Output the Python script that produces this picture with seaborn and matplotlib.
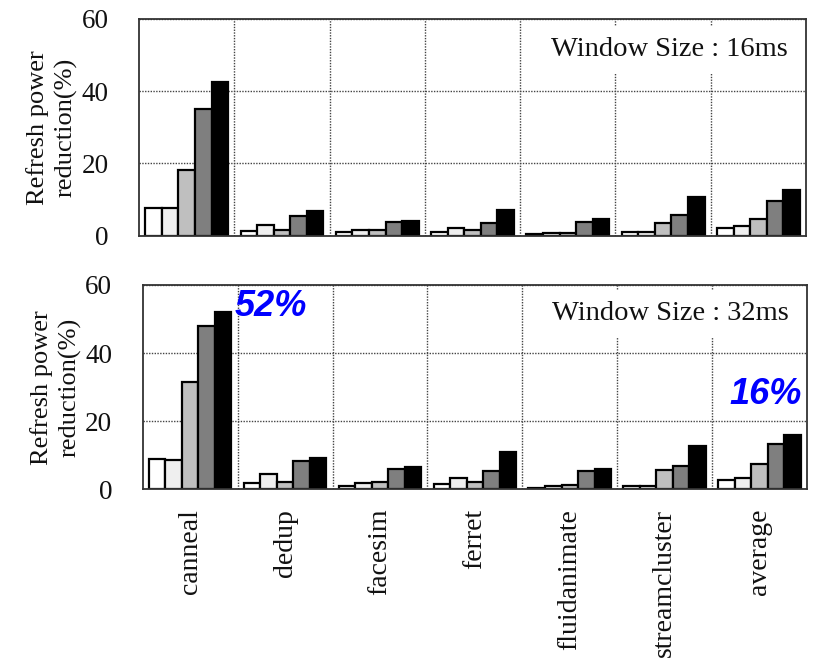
import matplotlib
matplotlib.use("Agg")
import matplotlib.pyplot as plt
import numpy as np
import pandas as pd
import seaborn as sns

# Benchmarks on the x axis
benchmarks = ["canneal", "dedup", "facesim", "ferret", "fluidanimate",
              "streamcluster", "average"]
schemes = ["s1", "s2", "s3", "s4", "s5"]
bar_colors = ["#ffffff", "#efefef", "#bfbfbf", "#7f7f7f", "#000000"]

# Refresh power reduction (%), window size 16 ms
w16_s1 = [7.8, 1.4, 0.9, 1.0, 0.5, 0.9, 2.0]
w16_s2 = [7.8, 3.0, 1.5, 2.1, 0.8, 0.9, 2.7]
w16_s3 = [18.2, 1.6, 1.6, 1.6, 0.8, 3.5, 4.6]
w16_s4 = [35.2, 5.5, 3.7, 3.5, 3.8, 5.8, 9.6]
w16_s5 = [42.5, 6.7, 4.2, 7.2, 4.6, 10.8, 12.7]

# Refresh power reduction (%), window size 32 ms
w32_s1 = [8.9, 1.8, 1.0, 1.6, 0.5, 1.0, 2.6]
w32_s2 = [8.5, 4.4, 1.8, 3.2, 0.9, 1.0, 3.2]
w32_s3 = [31.4, 2.1, 2.1, 2.0, 1.2, 5.6, 7.4]
w32_s4 = [48.0, 8.4, 6.0, 5.3, 5.5, 6.8, 13.3]
w32_s5 = [52.0, 9.2, 6.5, 11.0, 6.0, 12.8, 16.0]

yticks = [0, 20, 40, 60]


def long_form(series):
    rows = []
    for name, vals in zip(schemes, series):
        for b, v in zip(benchmarks, vals):
            rows.append({"benchmark": b, "scheme": name, "value": v})
    return pd.DataFrame(rows)


df16 = long_form([w16_s1, w16_s2, w16_s3, w16_s4, w16_s5])
df32 = long_form([w32_s1, w32_s2, w32_s3, w32_s4, w32_s5])

sns.set_style("white")
plt.rcParams["font.family"] = ["Liberation Serif", "DejaVu Serif"]
plt.rcParams["text.color"] = "#111111"
plt.rcParams["axes.labelcolor"] = "#111111"
plt.rcParams["xtick.color"] = "#111111"
plt.rcParams["ytick.color"] = "#111111"

fig = plt.figure(figsize=(8.15, 6.62), dpi=100)
ax_top = fig.add_axes([0.1706, 0.644, 0.8184, 0.3273])
ax_bot = fig.add_axes([0.1751, 0.2609, 0.8151, 0.3086])


def draw_panel(ax, df, title, show_xlabels):
    sns.barplot(data=df, x="benchmark", y="value", hue="scheme",
                order=benchmarks, hue_order=schemes, palette=bar_colors,
                saturation=1, edgecolor="black", linewidth=1.6,
                width=0.87, legend=False, errorbar=None, ax=ax)
    ax.set_xlim(-0.5, len(benchmarks) - 0.5)
    ax.set_ylim(0, 60)
    ax.set_yticks(yticks)
    ax.set_yticklabels([str(t) for t in yticks], fontsize=19.5)
    ax.set_xticks(np.arange(len(benchmarks)))
    if show_xlabels:
        ax.set_xticklabels(benchmarks, rotation=90, fontsize=20, va="top")
    else:
        ax.set_xticklabels([])
    ax.set_xticks(np.arange(len(benchmarks) - 1) + 0.5, minor=True)
    ax.tick_params(axis="both", which="both", length=0)
    ax.tick_params(axis="y", pad=22)
    ax.tick_params(axis="x", pad=14)
    ax.set_axisbelow(True)
    ax.grid(False)
    ax.yaxis.grid(True, which="major", color="#444444",
                  linestyle=(0, (1, 1)), linewidth=1.0)
    ax.xaxis.grid(True, which="minor", color="#444444",
                  linestyle=(0, (1, 1)), linewidth=1.0)
    for s in ax.spines.values():
        s.set_visible(True)
        s.set_color("#333333")
        s.set_linewidth(1.3)
    ax.set_xlabel("")
    ax.set_ylabel("Refresh power\nreduction(%)", fontsize=19,
                  linespacing=1.3)
    ax.yaxis.set_label_coords(-0.092, 0.5)
    ax.text(0.973, 0.86, title, transform=ax.transAxes, ha="right",
            va="center", fontsize=20.5,
            bbox=dict(facecolor="white", edgecolor="none", pad=8))


draw_panel(ax_top, df16, "Window Size : 16ms", False)
draw_panel(ax_bot, df32, "Window Size : 32ms", True)

# Highlight the peak and the average reduction at 32 ms
peak = w32_s5[0]
avg = w32_s5[-1]
hl = dict(color="#0000ff", fontsize=26, fontweight="bold", style="italic",
          family=["Liberation Sans", "DejaVu Sans"], va="center")
ax_bot.text(0.47, peak + 1.7, f"{peak:.0f}%", ha="left", **hl)
ax_bot.text(6.44, avg + 11.7, f"{avg:.0f}%", ha="right", **hl)

fig.savefig("out.png", dpi=100)
